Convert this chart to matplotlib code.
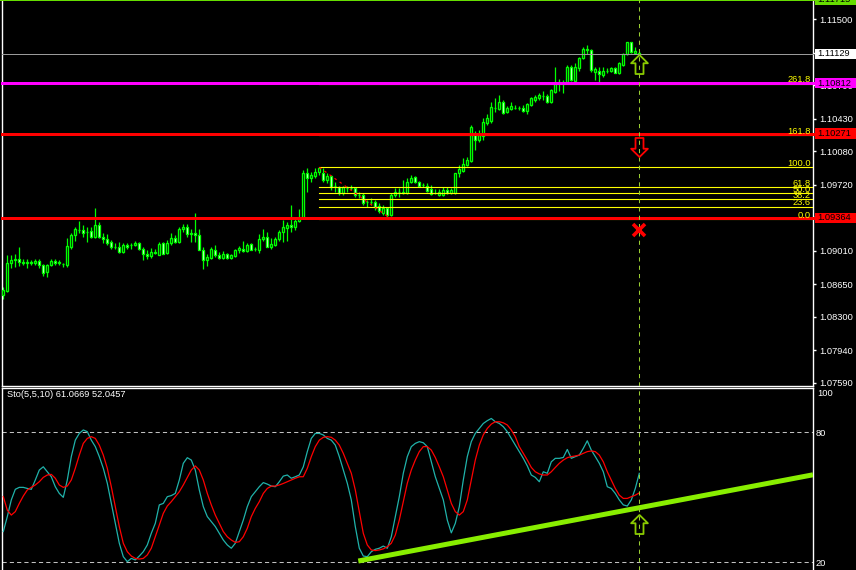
import numpy as np
import matplotlib
matplotlib.use("Agg")
import matplotlib.pyplot as plt
from matplotlib.path import Path
from matplotlib.patches import Rectangle

plt.rcParams['font.family'] = ['Liberation Sans', 'DejaVu Sans']

# ---- price bars (EURUSD-like) ----
opens = [1.08531, 1.08578, 1.08883, 1.08908, 1.08926, 1.08890, 1.08876, 1.08887, 1.08880, 1.08898,
         1.08855, 1.08776, 1.08855, 1.08898, 1.08876, 1.08865, 1.08855, 1.09052, 1.09178, 1.09231,
         1.09231, 1.09214, 1.09221, 1.09153, 1.09285, 1.09153, 1.09135, 1.09106, 1.09052, 1.09052,
         1.08998, 1.09070, 1.09070, 1.09070, 1.09088, 1.09034, 1.08980, 1.08951, 1.08991, 1.08969,
         1.09088, 1.08987, 1.09088, 1.09142, 1.09102, 1.09239, 1.09260, 1.09196, 1.09203, 1.09178,
         1.09023, 1.08908, 1.08934, 1.09023, 1.08962, 1.08934, 1.08973, 1.08934, 1.08951, 1.09016,
         1.09034, 1.09009, 1.09081, 1.09027, 1.09016, 1.09131, 1.09153, 1.09052, 1.09070, 1.09131,
         1.09210, 1.09257, 1.09285, 1.09267, 1.09328, 1.09360, 1.09842, 1.09788, 1.09813, 1.09860,
         1.09842, 1.09770, 1.09813, 1.09705, 1.09698, 1.09626, 1.09687, 1.09685, 1.09680, 1.09608,
         1.09606, 1.09537, 1.09535, 1.09537, 1.09490, 1.09411, 1.09465, 1.09393, 1.09608, 1.09644,
         1.09633, 1.09626, 1.09752, 1.09799, 1.09752, 1.09716, 1.09705, 1.09669, 1.09633, 1.09608,
         1.09608, 1.09662, 1.09626, 1.09626, 1.09842, 1.09870, 1.09931, 1.09977, 1.10253, 1.10199,
         1.10242, 1.10386, 1.10408, 1.10551, 1.10540, 1.10612, 1.10504, 1.10533, 1.10551, 1.10544,
         1.10551, 1.10515, 1.10576, 1.10630, 1.10648, 1.10673, 1.10673, 1.10612, 1.10720, 1.10828,
         1.10826, 1.10828, 1.10989, 1.10838, 1.10971, 1.11079, 1.11176, 1.11169, 1.10935, 1.10946,
         1.10899, 1.10942, 1.10946, 1.10971, 1.10924, 1.11007, 1.11126, 1.11255, 1.11133, 1.11140]
highs = [1.08621, 1.08962, 1.08962, 1.08980, 1.09052, 1.08926, 1.08916, 1.08908, 1.08916, 1.08916,
         1.08872, 1.08872, 1.08919, 1.08923, 1.08908, 1.08880, 1.09142, 1.09196, 1.09267, 1.09328,
         1.09285, 1.09267, 1.09267, 1.09468, 1.09321, 1.09196, 1.09185, 1.09124, 1.09088, 1.09106,
         1.09095, 1.09095, 1.09088, 1.09113, 1.09106, 1.09052, 1.09016, 1.09041, 1.09027, 1.09106,
         1.09106, 1.09124, 1.09196, 1.09178, 1.09267, 1.09293, 1.09303, 1.09249, 1.09418, 1.09249,
         1.09052, 1.08980, 1.09052, 1.09070, 1.08998, 1.09005, 1.08987, 1.08973, 1.09034, 1.09059,
         1.09113, 1.09095, 1.09095, 1.09052, 1.09185, 1.09239, 1.09214, 1.09142, 1.09160, 1.09231,
         1.09346, 1.09321, 1.09501, 1.09357, 1.09454, 1.09880, 1.09896, 1.09860, 1.09896, 1.09907,
         1.09896, 1.09842, 1.09824, 1.09752, 1.09705, 1.09705, 1.09705, 1.09716, 1.09698, 1.09644,
         1.09626, 1.09555, 1.09572, 1.09555, 1.09519, 1.09501, 1.09483, 1.09626, 1.09680, 1.09680,
         1.09770, 1.09788, 1.09824, 1.09813, 1.09763, 1.09734, 1.09734, 1.09716, 1.09669, 1.09669,
         1.09698, 1.09691, 1.09680, 1.09849, 1.09931, 1.10003, 1.10021, 1.10361, 1.10300, 1.10307,
         1.10443, 1.10486, 1.10612, 1.10648, 1.10684, 1.10630, 1.10565, 1.10612, 1.10576, 1.10565,
         1.10576, 1.10601, 1.10666, 1.10684, 1.10702, 1.10731, 1.10695, 1.10745, 1.10989, 1.10853,
         1.10845, 1.11007, 1.11007, 1.11025, 1.11097, 1.11197, 1.11222, 1.11176, 1.10989, 1.10989,
         1.10982, 1.10971, 1.10989, 1.10982, 1.11043, 1.11140, 1.11258, 1.11258, 1.11204, 1.11161]
lows = [1.08496, 1.08567, 1.08819, 1.08837, 1.08844, 1.08855, 1.08829, 1.08855, 1.08858, 1.08829,
        1.08736, 1.08729, 1.08844, 1.08858, 1.08855, 1.08837, 1.08837, 1.09034, 1.09113, 1.09196,
        1.09153, 1.09106, 1.09142, 1.09150, 1.09142, 1.09088, 1.09070, 1.09034, 1.09027, 1.08987,
        1.08987, 1.09027, 1.09034, 1.09059, 1.09016, 1.08908, 1.08926, 1.08937, 1.08980, 1.08962,
        1.08973, 1.08980, 1.09070, 1.09088, 1.09088, 1.09214, 1.09160, 1.09106, 1.09106, 1.09016,
        1.08811, 1.08844, 1.08926, 1.08944, 1.08926, 1.08926, 1.08926, 1.08926, 1.08944, 1.08987,
        1.08998, 1.08998, 1.09016, 1.09005, 1.08987, 1.09113, 1.09045, 1.09034, 1.09059, 1.09117,
        1.09106, 1.09113, 1.09214, 1.09231, 1.09321, 1.09350, 1.09644, 1.09752, 1.09788, 1.09824,
        1.09752, 1.09734, 1.09662, 1.09644, 1.09608, 1.09608, 1.09644, 1.09662, 1.09590, 1.09572,
        1.09501, 1.09483, 1.09501, 1.09447, 1.09411, 1.09393, 1.09365, 1.09382, 1.09590, 1.09590,
        1.09619, 1.09619, 1.09734, 1.09734, 1.09698, 1.09691, 1.09644, 1.09608, 1.09619, 1.09598,
        1.09601, 1.09619, 1.09619, 1.09622, 1.09806, 1.09860, 1.09921, 1.09966, 1.10092, 1.10181,
        1.10199, 1.10361, 1.10379, 1.10504, 1.10522, 1.10486, 1.10494, 1.10522, 1.10530, 1.10522,
        1.10504, 1.10486, 1.10565, 1.10612, 1.10630, 1.10630, 1.10601, 1.10601, 1.10709, 1.10731,
        1.10702, 1.10810, 1.10838, 1.10828, 1.10946, 1.11068, 1.11126, 1.10935, 1.10845, 1.10828,
        1.10881, 1.10917, 1.10935, 1.10917, 1.10910, 1.10996, 1.11115, 1.11140, 1.11126, 1.11126]
closes = [1.08585, 1.08883, 1.08908, 1.08926, 1.08890, 1.08876, 1.08894, 1.08880, 1.08901, 1.08855,
          1.08772, 1.08855, 1.08898, 1.08876, 1.08890, 1.08862, 1.09059, 1.09178, 1.09242, 1.09233,
          1.09203, 1.09216, 1.09153, 1.09285, 1.09153, 1.09135, 1.09088, 1.09052, 1.09050, 1.08998,
          1.09070, 1.09052, 1.09068, 1.09095, 1.09034, 1.08980, 1.08951, 1.08998, 1.08987, 1.09081,
          1.08980, 1.09088, 1.09142, 1.09106, 1.09239, 1.09267, 1.09188, 1.09193, 1.09178, 1.09023,
          1.08908, 1.08944, 1.09027, 1.08962, 1.08934, 1.08973, 1.08934, 1.08962, 1.09016, 1.09041,
          1.09009, 1.09077, 1.09023, 1.09029, 1.09131, 1.09153, 1.09052, 1.09081, 1.09131, 1.09210,
          1.09260, 1.09285, 1.09267, 1.09328, 1.09357, 1.09850, 1.09788, 1.09824, 1.09860, 1.09900,
          1.09770, 1.09813, 1.09698, 1.09703, 1.09626, 1.09691, 1.09685, 1.09687, 1.09608, 1.09606,
          1.09519, 1.09535, 1.09537, 1.09483, 1.09436, 1.09465, 1.09393, 1.09608, 1.09644, 1.09642,
          1.09644, 1.09752, 1.09788, 1.09752, 1.09705, 1.09714, 1.09655, 1.09619, 1.09631, 1.09637,
          1.09662, 1.09626, 1.09662, 1.09842, 1.09885, 1.09942, 1.09985, 1.10336, 1.10199, 1.10253,
          1.10397, 1.10443, 1.10558, 1.10549, 1.10612, 1.10494, 1.10548, 1.10565, 1.10549, 1.10542,
          1.10515, 1.10587, 1.10648, 1.10666, 1.10684, 1.10675, 1.10612, 1.10738, 1.10817, 1.10826,
          1.10830, 1.10989, 1.10845, 1.10989, 1.11079, 1.11176, 1.11174, 1.10953, 1.10960, 1.10907,
          1.10946, 1.10944, 1.10978, 1.10924, 1.11025, 1.11126, 1.11255, 1.11151, 1.11161, 1.11129]

# ---- Stochastic(5,5,10) ----
sto_main = [34.2, 41.1, 48.8, 53.7, 54.6, 54.6, 54.1, 53.7, 58.0, 62.6,
            64.1, 61.8, 59.5, 54.9, 51.8, 50.0, 58.0, 68.8, 76.4, 79.5,
            81.1, 80.3, 76.4, 73.4, 68.8, 63.4, 56.5, 47.2, 38.0, 28.8,
            22.6, 20.3, 21.8, 21.1, 22.9, 24.9, 28.0, 33.4, 38.0, 46.5,
            47.2, 50.3, 50.8, 51.8, 58.0, 65.7, 68.3, 67.2, 62.6, 53.4,
            45.7, 41.1, 38.8, 36.5, 33.4, 30.3, 28.0, 26.5, 28.8, 34.2,
            39.5, 45.7, 50.3, 52.6, 54.9, 56.8, 56.1, 55.2, 54.9, 57.2,
            59.8, 60.3, 58.8, 59.5, 60.3, 64.1, 71.1, 77.2, 79.5, 79.5,
            78.8, 77.2, 76.4, 74.1, 68.8, 62.6, 56.5, 48.8, 36.5, 26.5,
            22.9, 22.6, 24.9, 26.0, 26.5, 27.5, 26.5, 31.8, 41.1, 50.3,
            61.1, 68.8, 73.4, 74.9, 75.7, 75.2, 73.4, 66.4, 59.5, 54.1,
            48.8, 39.5, 33.6, 38.0, 45.7, 58.0, 68.8, 75.7, 79.5, 81.8,
            84.1, 85.4, 86.4, 84.9, 84.1, 82.6, 80.3, 77.2, 74.1, 71.1,
            68.0, 64.5, 60.3, 59.2, 57.2, 61.8, 61.1, 66.4, 68.0, 68.0,
            68.4, 72.1, 68.0, 68.8, 69.5, 72.6, 76.1, 71.8, 68.8, 65.7,
            61.8, 54.9, 54.1, 51.8, 48.8, 46.5, 46.0, 48.8, 54.1, 61.07]
sto_signal = [50.3, 44.1, 41.8, 43.4, 47.2, 50.6, 53.4, 54.6, 55.7, 57.2,
              59.2, 60.3, 60.6, 58.8, 55.7, 54.6, 55.2, 58.0, 63.4, 69.5,
              74.9, 77.2, 78.0, 77.2, 74.1, 69.5, 63.4, 54.9, 45.7, 36.5,
              28.8, 24.9, 22.9, 21.8, 21.5, 21.8, 23.4, 26.5, 31.8, 37.2,
              42.6, 46.0, 48.0, 50.3, 52.6, 55.7, 59.2, 62.6, 64.5, 62.6,
              58.0, 51.8, 46.5, 41.8, 38.0, 34.2, 31.8, 30.3, 29.2, 29.5,
              31.8, 35.7, 41.1, 44.9, 48.0, 51.8, 54.1, 55.2, 55.2, 55.7,
              56.4, 57.2, 58.0, 58.8, 59.5, 59.5, 63.4, 68.8, 73.4, 76.4,
              77.7, 78.0, 77.7, 76.4, 74.1, 70.3, 65.7, 61.1, 53.4, 43.4,
              33.4, 28.0, 25.7, 25.4, 25.7, 26.2, 27.2, 28.8, 32.6, 39.5,
              48.0, 56.5, 62.6, 67.2, 71.1, 73.4, 73.4, 71.8, 68.4, 64.1,
              59.5, 53.4, 47.2, 43.4, 41.8, 43.4, 48.8, 58.0, 67.2, 74.1,
              78.8, 81.8, 83.8, 84.9, 84.9, 84.4, 83.4, 81.1, 78.0, 73.4,
              70.3, 67.2, 63.8, 61.8, 60.8, 60.3, 60.3, 61.8, 63.8, 65.7,
              67.2, 68.3, 68.8, 69.1, 69.5, 70.3, 71.1, 71.4, 71.1, 69.5,
              66.4, 61.8, 58.0, 54.1, 51.0, 49.5, 49.5, 50.3, 51.0, 52.05]

# price axis ticks
price_ticks = [1.11500, 1.11140, 1.10790, 1.10430, 1.10080, 1.09720,
               1.09370, 1.09010, 1.08650, 1.08300, 1.07940, 1.07590]

# horizontal lines (price, colour, width px)
hlines = [(1.11715, '#66DD00', 4.0), (1.11129, '#9A9A9A', 1.0),
          (1.10812, '#FF00FF', 3.0), (1.10271, '#FF0000', 3.0),
          (1.09364, '#FF0000', 3.0)]

# fibonacci retracement
fib_bar0, fib_bar1 = 79, 97
fib_high, fib_low = 1.09907, 1.09350
fib_levels = [0.0, 23.6, 38.2, 50.0, 61.8, 100.0, 161.8, 261.8]

signal_bar = 159
arrow_up_price = 1.11014
arrow_dn_price = 1.10121
cross_price = 1.09233
sto_arrow_val = 37.7
trend_pts = [(88.75, 20.6), (159, 45.2)]

W, H = 856, 570
fig = plt.figure(figsize=(W / 100, H / 100), dpi=100, facecolor='black')


def px_axes(left, top, right, bottom):
    return fig.add_axes([left / W, 1 - bottom / H, (right - left) / W, (bottom - top) / H])


ax = px_axes(2, 0, 813, 385.5)
ax2 = px_axes(2, 387.5, 813, 570)
xmin, xmax = -0.325, 202.425
p_lo, p_hi = 1.07560, 1.117077
s_lo, s_hi = 16.45, 100.7
PX = 0.72  # points per pixel

for a in (ax, ax2):
    a.set_facecolor('black')
    a.set_xlim(xmin, xmax)
    a.set_xticks([])
    for s in a.spines.values():
        s.set_color('white')
        s.set_linewidth(1.0)
ax.set_ylim(p_lo, p_hi)
ax2.set_ylim(s_lo, s_hi)
ax.spines['top'].set_visible(False)
ax2.spines['bottom'].set_visible(False)

ax.yaxis.tick_right()
ax.set_yticks(price_ticks)
ax.set_yticklabels(['%.5f' % v for v in price_ticks])
ax.tick_params(axis='y', colors='white', length=3 * PX, width=1.0, pad=3 * PX, labelsize=6.7)

ax2.yaxis.tick_right()
ax2.set_yticks([80, 20])
ax2.set_yticklabels(['80', '20'])
ax2.tick_params(axis='y', colors='white', length=0, pad=3 * PX, labelsize=6.7)
ax2.text(1 + 4 / 811, 100, '100', transform=ax2.get_yaxis_transform(), color='white',
         fontsize=6.7, va='top', ha='left', clip_on=False)

# ---- candles ----
idx = np.arange(len(closes))
o, h, l, c = map(np.array, (opens, highs, lows, closes))
ax.vlines(idx, l, h, color='#00FF00', lw=0.9, zorder=2)
bull = c >= o
body_lo = np.minimum(o, c)
body_h = np.maximum(np.abs(c - o), 0.00002)
ax.bar(idx, body_h, bottom=body_lo, width=0.5, color=np.where(bull, 'black', 'white'),
       edgecolor='#00FF00', linewidth=0.95, zorder=3)

# ---- fibonacci ----
rng = fib_high - fib_low
fib_x = 1 - 2 / 811
dp = (p_hi - p_lo) / 385.5
for lev in fib_levels:
    y = fib_low + rng * lev / 100
    ax.plot([fib_bar0, xmax], [y, y], color='#FFFF00', lw=0.8, zorder=4)
    ax.text(fib_x, y + 1.5 * dp, '%.1f' % lev, transform=ax.get_yaxis_transform(),
            color='#FFFF00', fontsize=6.7, ha='right', va='baseline', zorder=8)
ax.plot([fib_bar0, fib_bar1], [fib_high, fib_low], color='#FF0000', lw=0.9,
        ls=(0, (2, 3)), zorder=4)

# ---- horizontal lines and price tags ----
tr = ax.get_yaxis_transform()
for val, col, wpx in hlines:
    ax.axhline(val, color=col, lw=wpx * PX, zorder=5, clip_on=False)
    hh = 10.5 * dp
    ax.add_patch(Rectangle((1 + 2 / 811, val - hh / 2), 45 / 811, hh, transform=tr,
                           facecolor=col if col != '#9A9A9A' else 'white', edgecolor='none',
                           clip_on=False, zorder=10))
    ax.text(1 + 4.5 / 811, val, '%.5f' % val, transform=tr, color='black', fontsize=6.7,
            va='center', ha='left', clip_on=False, zorder=11)

# ---- vertical line at last bar ----
for a in (ax, ax2):
    a.axvline(signal_bar, color='#99CC33', lw=0.75, ls=(0, (4, 4)), zorder=6)

# ---- arrows ----
up = Path([(0, 1), (0.88, 0.13), (0.42, 0.13), (0.42, -1), (-0.42, -1),
           (-0.42, 0.13), (-0.88, 0.13), (0, 1)], closed=True)
dn = Path([(x, -y) for x, y in up.vertices], closed=True)
ax.plot([signal_bar], [arrow_up_price], marker=up, ms=13.7, mfc='none', mec='#8ACB00',
        mew=1.3, zorder=9)
ax.plot([signal_bar], [arrow_dn_price], marker=dn, ms=13.7, mfc='none', mec='#FF0000',
        mew=1.3, zorder=9)
ax.plot([signal_bar], [cross_price], marker='x', ms=8, mec='#FF0000', mew=2.6, zorder=9)
ax2.plot([signal_bar], [sto_arrow_val], marker=up, ms=13.7, mfc='none', mec='#8ACB00',
         mew=1.3, zorder=9, clip_on=False)

# ---- stochastic panel ----
for lv in (80, 20):
    ax2.axhline(lv, color='#C0C0C0', lw=0.75, ls=(0, (4, 3)), zorder=1)
ax2.plot(idx, sto_main, color='#20B2AA', lw=0.9, zorder=3)
ax2.plot(idx, sto_signal, color='#FF0000', lw=0.9, zorder=3)
(x0, y0), (x1, y1) = trend_pts
slope = (y1 - y0) / (x1 - x0)
ax2.plot([x0, xmax], [y0, y0 + slope * (xmax - x0)], color='#88EE00', lw=5 * PX,
         solid_capstyle='butt', zorder=5)
ax2.text(5 / 811, 0.985, 'Sto(5,5,10) %.4f %.4f' % (61.0669, 52.0457), transform=ax2.transAxes,
         color='white', fontsize=6.7, va='top', ha='left')

fig.savefig('out.png', dpi=100, facecolor='black')
